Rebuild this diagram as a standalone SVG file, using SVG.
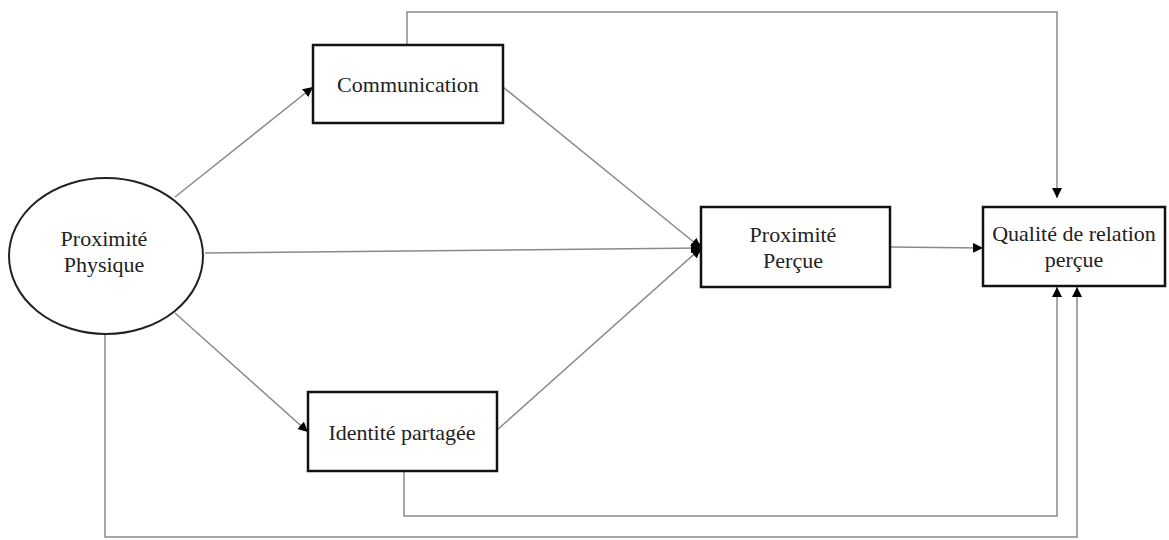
<svg xmlns="http://www.w3.org/2000/svg" width="1169" height="540" viewBox="0 0 1169 540">
<defs>
<marker id="ah" viewBox="0 0 10 10" refX="10" refY="5" markerWidth="10" markerHeight="10" markerUnits="userSpaceOnUse" orient="auto">
<path d="M0,0 L10,5 L0,10 z" fill="#000"/>
</marker>
</defs>
<style>
.box{fill:#fff;stroke:#111;stroke-width:2.5}
.ell{fill:#fff;stroke:#222;stroke-width:2}
.lbl{font-size:22px;fill:#222;text-anchor:middle}
.c{fill:none;stroke:#8a8a8a;stroke-width:1.5}
</style>
<rect width="1169" height="540" fill="#fff"/>
<g id="connectors">
<path class="c" d="M407,45 V12 H1057 V198" marker-end="url(#ah)"/>
<path class="c" d="M175,197 L313,87" marker-end="url(#ah)"/>
<path class="c" d="M175,313 L308,432" marker-end="url(#ah)"/>
<path class="c" d="M205,253 L701,248" marker-end="url(#ah)"/>
<path class="c" d="M503,87 L701,248" marker-end="url(#ah)"/>
<path class="c" d="M497,430 L701,248" marker-end="url(#ah)"/>
<path class="c" d="M890,247 L983,248" marker-end="url(#ah)"/>
<path class="c" d="M404,471 V516 H1057 V287" marker-end="url(#ah)"/>
<path class="c" d="M105,335 V537 H1077 V287" marker-end="url(#ah)"/>
<ellipse cx="697" cy="248" rx="4" ry="6" fill="#000"/>
</g>
<g font-family="Liberation Serif, Times New Roman, serif">
<g id="n-physique">
<ellipse class="ell" cx="106" cy="256" rx="97" ry="78"/>
<text class="lbl" x="104" y="246">Proximité</text>
<text class="lbl" x="104" y="272">Physique</text>
</g>
<g id="n-communication">
<rect class="box" x="313" y="45" width="190" height="78"/>
<text class="lbl" x="408" y="92">Communication</text>
</g>
<g id="n-identite">
<rect class="box" x="308" y="392" width="189" height="79"/>
<text class="lbl" x="402" y="440">Identité partagée</text>
</g>
<g id="n-percue">
<rect class="box" x="701" y="207" width="189" height="80"/>
<text class="lbl" x="793" y="242">Proximité</text>
<text class="lbl" x="793" y="268">Perçue</text>
</g>
<g id="n-qualite">
<rect class="box" x="983" y="207" width="182" height="79"/>
<text class="lbl" x="1074" y="241">Qualité de relation</text>
<text class="lbl" x="1074" y="267">perçue</text>
</g>
</g>
</svg>
